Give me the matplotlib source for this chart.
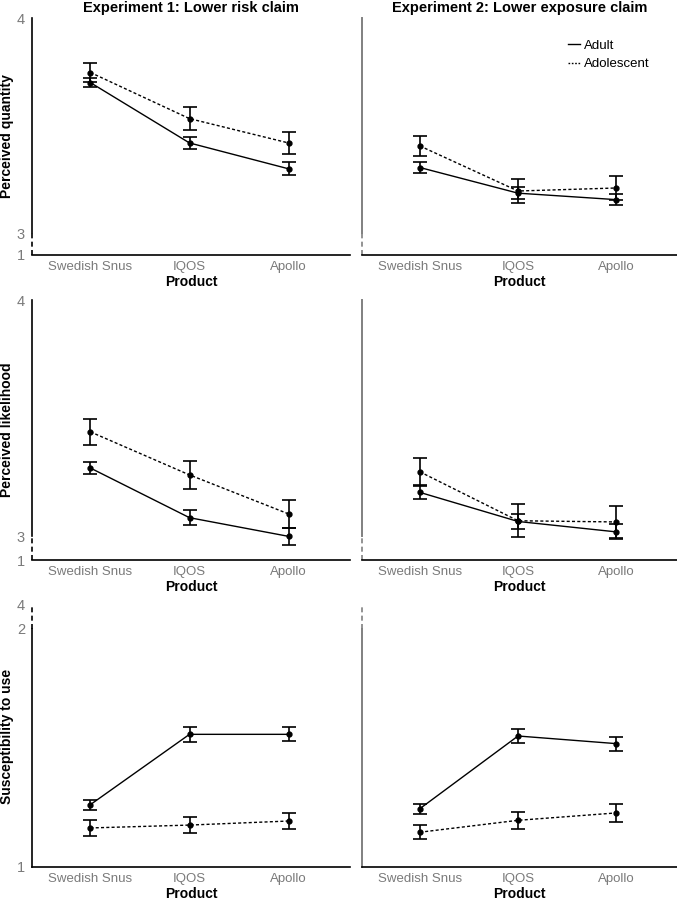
import matplotlib
matplotlib.use("Agg")
from matplotlib import pyplot as plt
from matplotlib.lines import Line2D

plt.rcParams['font.family'] = ['Liberation Sans', 'DejaVu Sans']

categories = ["Swedish Snus", "IQOS", "Apollo"]
column_titles = ["Experiment 1: Lower risk claim", "Experiment 2: Lower exposure claim"]
row_labels = ["Perceived quantity", "Perceived likelihood", "Susceptibility to use"]

# row 1: perceived quantity
exp1_quantity_adult = [3.700, 3.420, 3.300]
exp1_quantity_adult_err = [0.021, 0.026, 0.030]
exp1_quantity_adol = [3.747, 3.533, 3.420]
exp1_quantity_adol_err = [0.043, 0.053, 0.052]
exp2_quantity_adult = [3.306, 3.187, 3.157]
exp2_quantity_adult_err = [0.027, 0.027, 0.027]
exp2_quantity_adol = [3.406, 3.197, 3.211]
exp2_quantity_adol_err = [0.047, 0.057, 0.056]

# row 2: perceived likelihood
exp1_likelihood_adult = [3.289, 3.079, 3.000]
exp1_likelihood_adult_err = [0.027, 0.031, 0.035]
exp1_likelihood_adol = [3.442, 3.260, 3.095]
exp1_likelihood_adol_err = [0.054, 0.058, 0.058]
exp2_likelihood_adult = [3.186, 3.063, 3.019]
exp2_likelihood_adult_err = [0.030, 0.032, 0.032]
exp2_likelihood_adol = [3.273, 3.066, 3.061]
exp2_likelihood_adol_err = [0.058, 0.070, 0.067]

# row 3: susceptibility to use
exp1_suscept_adult = [1.262, 1.557, 1.557]
exp1_suscept_adult_err = [0.021, 0.031, 0.030]
exp1_suscept_adol = [1.164, 1.176, 1.193]
exp1_suscept_adol_err = [0.033, 0.035, 0.035]
exp2_suscept_adult = [1.245, 1.550, 1.518]
exp2_suscept_adult_err = [0.021, 0.031, 0.029]
exp2_suscept_adol = [1.146, 1.196, 1.227]
exp2_suscept_adol_err = [0.029, 0.037, 0.036]

# broken y axis: (ylim, solid part, dashed part, ticks, tick labels)
top_axis = ((2.9, 4.0), (3.0, 4.0), (2.9, 3.0), [2.9, 3.0, 4.0], ["1", "3", "4"])
bottom_axis = ((1.0, 2.1), (1.0, 2.0), (2.0, 2.1), [1.0, 2.0, 2.1], ["1", "2", "4"])

panels = [
    [(exp1_quantity_adult, exp1_quantity_adult_err, exp1_quantity_adol, exp1_quantity_adol_err),
     (exp2_quantity_adult, exp2_quantity_adult_err, exp2_quantity_adol, exp2_quantity_adol_err)],
    [(exp1_likelihood_adult, exp1_likelihood_adult_err, exp1_likelihood_adol, exp1_likelihood_adol_err),
     (exp2_likelihood_adult, exp2_likelihood_adult_err, exp2_likelihood_adol, exp2_likelihood_adol_err)],
    [(exp1_suscept_adult, exp1_suscept_adult_err, exp1_suscept_adol, exp1_suscept_adol_err),
     (exp2_suscept_adult, exp2_suscept_adult_err, exp2_suscept_adol, exp2_suscept_adol_err)],
]
axis_specs = [top_axis, top_axis, bottom_axis]

W, H = 677, 900
row_px = [(18, 255), (300, 560), (605, 867)]
col_px = [(32, 350), (362, 677)]

TICK_GREY = '#7a7a7a'
DASH = (0, (2.2, 1.6))

fig = plt.figure(figsize=(6.77, 9.0), dpi=100)

for r in range(3):
    ylim, solid, dashed, yticks, ylabels = axis_specs[r]
    for c in range(2):
        x0, x1 = col_px[c]
        top, bottom = row_px[r]
        ax = fig.add_axes([x0 / W, 1 - bottom / H, (x1 - x0) / W, (bottom - top) / H])
        adult, adult_err, adol, adol_err = panels[r][c]
        x = range(len(categories))
        ax.errorbar(x, adult, yerr=adult_err, color='black', lw=1, marker='o', ms=3.5,
                    capsize=5, elinewidth=1.2, capthick=1.2)
        ax.errorbar(x, adol, yerr=adol_err, color='black', lw=1, ls=DASH, marker='o', ms=3.5,
                    capsize=5, elinewidth=1.2, capthick=1.2)

        ax.set_xlim(-0.59, 2.62)
        ax.set_ylim(*ylim)
        ax.set_xticks(list(x))
        ax.set_xticklabels(categories, color=TICK_GREY, fontsize=9.5)
        ax.set_yticks(yticks)
        if c == 0:
            ax.set_yticklabels(ylabels, color=TICK_GREY, fontsize=10.5)
            ax.set_ylabel(row_labels[r], fontsize=10, fontweight='bold')
            ax.yaxis.set_label_coords(-0.058, 0.5)
        else:
            ax.set_yticklabels([])
        ax.tick_params(length=0)
        ax.tick_params(axis='x', pad=4)
        ax.tick_params(axis='y', pad=5)
        ax.set_xlabel("Product", fontsize=10, fontweight='bold', labelpad=2)

        spine_col = 'black' if c == 0 else '#808080'
        for s in ['top', 'right']:
            ax.spines[s].set_visible(False)
        ax.spines['bottom'].set_linewidth(1.2)
        ax.spines['left'].set_linewidth(1.4 if c == 1 else 1.2)
        ax.spines['left'].set_color(spine_col)
        ax.spines['left'].set_bounds(*solid)
        ax.plot([0, 0], list(dashed), transform=ax.get_yaxis_transform(), color=spine_col,
                lw=1.2, ls=(0, (3, 2)), clip_on=False)

        if r == 0:
            ax.set_title(column_titles[c], fontsize=10.5, fontweight='bold', pad=4)
        if r == 0 and c == 1:
            handles = [Line2D([], [], color='black', lw=1),
                       Line2D([], [], color='black', lw=1, ls=(0, (1.2, 1.2)))]
            ax.legend(handles, ['Adult', 'Adolescent'], loc='upper right', bbox_to_anchor=(0.93, 0.93),
                      frameon=False, fontsize=9.5, handlelength=0.9, handletextpad=0.3,
                      labelspacing=0.45, borderaxespad=0)

fig.savefig('out.png', dpi=100)
